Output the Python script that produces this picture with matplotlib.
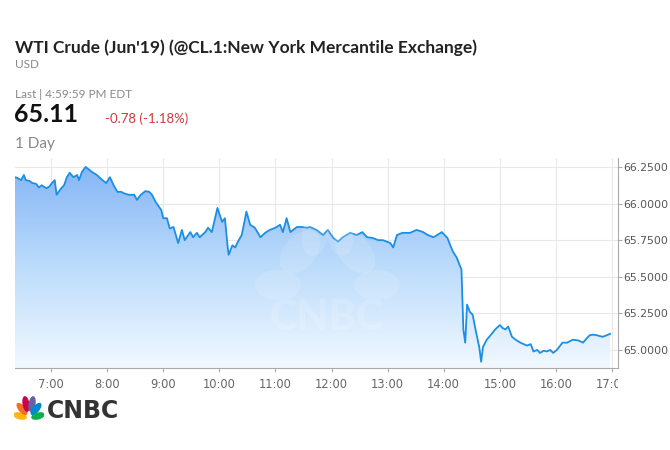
import numpy as np
import matplotlib
matplotlib.use('Agg')
import matplotlib.pyplot as plt
from matplotlib.patches import Ellipse, Rectangle
from matplotlib.colors import LinearSegmentedColormap

plt.rcParams['font.family'] = ['Lato', 'DejaVu Sans']

# 时间（HH:MM）和价格
times = ['6:21', '6:24', '6:28', '6:31', '6:33', '6:37', '6:40', '6:44', '6:47', '6:50',
         '6:55', '6:58', '7:01', '7:04', '7:06', '7:11', '7:14', '7:17', '7:20', '7:24',
         '7:28', '7:30', '7:33', '7:37', '7:41', '7:44', '7:49', '7:55', '7:59', '8:03',
         '8:07', '8:11', '8:15', '8:18', '8:23', '8:29', '8:32', '8:36', '8:41', '8:45',
         '8:48', '8:52', '8:58', '9:00', '9:04', '9:07', '9:11', '9:16', '9:20', '9:23',
         '9:29', '9:32', '9:36', '9:39', '9:45', '9:48', '9:52', '9:58', '10:03', '10:06',
         '10:09', '10:10', '10:14', '10:17', '10:20', '10:24', '10:29', '10:33', '10:38', '10:44',
         '10:49', '10:54', '11:00', '11:05', '11:08', '11:12', '11:16', '11:23', '11:28', '11:34',
         '11:37', '11:44', '11:51', '11:56', '12:02', '12:07', '12:12', '12:20', '12:27', '12:33',
         '12:38', '12:44', '12:50', '12:55', '13:03', '13:06', '13:10', '13:16', '13:24', '13:31',
         '13:38', '13:43', '13:49', '13:53', '13:58', '14:04', '14:07', '14:10', '14:14', '14:17',
         '14:19', '14:21', '14:23', '14:25', '14:28', '14:31', '14:34', '14:38', '14:40', '14:42',
         '14:46', '14:50', '14:55', '15:00', '15:03', '15:06', '15:09', '15:13', '15:17', '15:22',
         '15:29', '15:33', '15:36', '15:40', '15:43', '15:47', '15:50', '15:54', '15:57', '16:01',
         '16:07', '16:12', '16:18', '16:24', '16:29', '16:33', '16:36', '16:40', '16:44', '16:47',
         '16:50', '16:54', '16:58']
prices = [66.18, 66.175, 66.16, 66.195, 66.16, 66.155, 66.14, 66.135, 66.11, 66.125,
          66.105, 66.115, 66.14, 66.16, 66.06, 66.105, 66.125, 66.18, 66.21, 66.18,
          66.195, 66.16, 66.215, 66.25, 66.23, 66.215, 66.195, 66.16, 66.14, 66.18,
          66.125, 66.08, 66.08, 66.07, 66.06, 66.06, 66.025, 66.06, 66.085, 66.08,
          66.06, 66.01, 65.955, 65.90, 65.90, 65.83, 65.84, 65.73, 65.82, 65.75,
          65.805, 65.77, 65.80, 65.77, 65.805, 65.835, 65.805, 65.97, 65.875, 65.90,
          65.70, 65.65, 65.715, 65.70, 65.74, 65.785, 65.945, 65.855, 65.835, 65.77,
          65.80, 65.82, 65.835, 65.855, 65.805, 65.90, 65.805, 65.84, 65.84, 65.835,
          65.84, 65.82, 65.785, 65.82, 65.765, 65.74, 65.77, 65.80, 65.785, 65.805,
          65.77, 65.765, 65.75, 65.75, 65.73, 65.70, 65.785, 65.80, 65.80, 65.82,
          65.805, 65.785, 65.77, 65.785, 65.805, 65.765, 65.715, 65.67, 65.63, 65.58,
          65.55, 65.14, 65.05, 65.31, 65.26, 65.24, 65.14, 65.02, 64.92, 65.02,
          65.07, 65.10, 65.14, 65.17, 65.15, 65.14, 65.16, 65.09, 65.07, 65.05,
          65.03, 65.04, 64.99, 65.0, 64.98, 64.995, 64.99, 65.0, 64.98, 65.00,
          65.05, 65.05, 65.07, 65.065, 65.05, 65.08, 65.10, 65.105, 65.10, 65.095,
          65.09, 65.10, 65.11]

xtick_labels = ['7:00', '8:00', '9:00', '10:00', '11:00', '12:00', '13:00', '14:00', '15:00', '16:00', '17:00']
ytick_values = [65.00, 65.25, 65.50, 65.75, 66.00, 66.25]


def to_min(s):
    h, m = s.split(':')
    return int(h) * 60 + int(m)


t = np.array([to_min(s) for s in times], dtype=float)
t[0] = 381.5
p = np.array(prices)

fig = plt.figure(figsize=(6.7, 4.5), dpi=100)
W, H = 670, 450
ax = fig.add_axes([15 / W, 1 - 368 / H, (618 - 15) / W, (368 - 158) / H])

xmin, xmax = 381.5, 1026.4
ymin, ymax = 64.877, 66.311

# 渐变填充
cmap = LinearSegmentedColormap.from_list('fill', ['#f2f8ff', '#bcdcfb', '#86b6f5'])
grad = np.linspace(0, 1, 256).reshape(-1, 1)
poly = ax.fill_between(t, p, ymin, color='none', lw=0)
img = ax.imshow(grad, extent=[t[0], t[-1], ymin, 66.25], origin='lower', aspect='auto',
                cmap=cmap, zorder=1)
img.set_clip_path(poly.get_paths()[0], transform=ax.transData)
ax.set_xlim(xmin, xmax)
ax.set_ylim(ymin, ymax)

ax.plot(t, p, color='#1a8fe3', lw=1.3, zorder=3)

# 水印
wm = fig.add_axes([250 / W, 1 - 330 / H, 155 / W, 120 / H])
wm.set_xlim(0, 155)
wm.set_ylim(0, 120)
wm.axis('off')
for cx, cy, w, h, a in [(28, 45, 46, 30, 0), (50, 78, 50, 32, 50), (65, 95, 42, 26, 80),
                        (90, 95, 42, 26, 100), (105, 78, 50, 32, 130), (127, 45, 46, 30, 180)]:
    wm.add_patch(Ellipse((cx, cy), w, h, angle=a, color='white', alpha=0.13, lw=0))
wm.text(77, 12, 'CNBC', ha='center', va='center', fontsize=30, fontweight='black',
        color='white', alpha=0.15)

ax.set_xticks([to_min(s) for s in xtick_labels])
ax.set_xticklabels(xtick_labels)
ax.set_yticks(ytick_values)
ax.set_yticklabels([f'{v:.4f}' for v in ytick_values])
ax.yaxis.tick_right()
ax.grid(True, color='#e8e8e8', lw=0.8, zorder=0)
ax.set_axisbelow(True)
for s in ['top', 'left']:
    ax.spines[s].set_visible(False)
ax.spines['right'].set_color('#aaaaaa')
ax.spines['bottom'].set_color('#aaaaaa')
ax.tick_params(axis='y', length=3, color='#aaaaaa', pad=1, labelsize=7.8, labelcolor='#555555')
ax.tick_params(axis='x', length=3, color='#aaaaaa', pad=4, labelsize=8.3, labelcolor='#666666')
for lab in ax.get_xticklabels() + ax.get_yticklabels():
    lab.set_family(['Liberation Sans Narrow', 'DejaVu Sans'])
clip = Rectangle((0, 0), 618 / W, 1, transform=fig.transFigure)
for lab in ax.get_xticklabels():
    lab.set_clip_path(clip)

# 标题文字
fig.text(15 / W, 1 - 48 / H, "WTI Crude (Jun'19) (@CL.1:New York Mercantile Exchange)",
         fontsize=12.5, fontweight='bold', color='#222222', va='center')
fig.text(15 / W, 1 - 65 / H, 'USD', fontsize=8.5, color='#888888', va='center')
fig.text(15 / W, 1 - 95 / H, 'Last | 4:59:59 PM EDT', fontsize=8.5, color='#888888', va='center')
fig.text(14 / W, 1 - 115 / H, '65.11', fontsize=18, fontweight='bold', color='#111111', va='center')
fig.text(105 / W, 1 - 119 / H, '-0.78 (-1.18%)', fontsize=9.5, color='#d0393b', va='center')
fig.text(15 / W, 1 - 144 / H, '1 Day', fontsize=11, color='#888888', va='center')

# CNBC 标志
lg = fig.add_axes([14 / W, 1 - 422 / H, 30 / W, 26 / H])
lg.set_xlim(0, 30)
lg.set_ylim(0, 26)
lg.axis('off')
feathers = [('#fcb711', 6, 6, 165, 14, 7), ('#f37021', 8, 13, 130, 15, 7), ('#cc004c', 12, 18, 100, 16, 7),
            ('#6460aa', 18, 18, 80, 16, 7), ('#0089d0', 22, 13, 50, 15, 7), ('#0db14b', 24, 6, 15, 14, 7)]
for col, cx, cy, a, w, h in feathers:
    lg.add_patch(Ellipse((cx, cy), w, h, angle=a, color=col, lw=0))
fig.text(47 / W, 1 - 411 / H, 'CNBC', fontsize=17, fontweight='bold', color='#333333', va='center',
         family=['DejaVu Sans'])

fig.savefig('out.png', dpi=100)
